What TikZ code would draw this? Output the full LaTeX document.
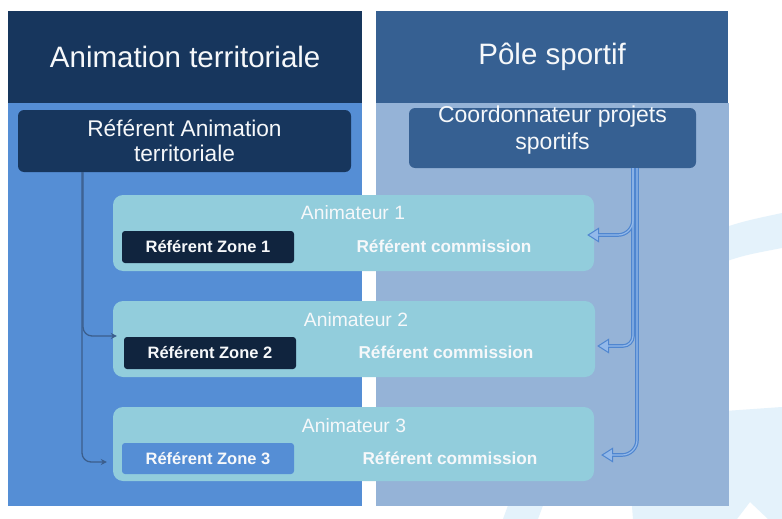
\documentclass[tikz,border=0pt]{standalone}
\usepackage{fontspec}
\setmainfont{Liberation Sans}
\usetikzlibrary{arrows.meta,calc}
\definecolor{navy}{HTML}{17365D}
\definecolor{leftbody}{HTML}{558ED5}
\definecolor{rhead}{HTML}{366092}
\definecolor{rightbody}{HTML}{95B3D7}
\definecolor{cyanbox}{HTML}{92CDDC}
\definecolor{zonedark}{HTML}{10243E}
\definecolor{wmblue}{HTML}{E4F2FB}
\definecolor{larrowc}{HTML}{3B5E8C}
\definecolor{routc}{HTML}{4F86D0}
\definecolor{rinc}{HTML}{93B9EA}
\definecolor{txtw}{HTML}{F6F8FA}
\begin{document}
\begin{tikzpicture}[x=1pt,y=-1pt,
  wm/.style={fill=wmblue},
  panel/.style={anchor=north west, inner sep=0pt, minimum height=403pt},
  hdr/.style={anchor=north west, inner sep=0pt, minimum height=92pt, text=txtw, font=\fontsize{29.5}{34}\selectfont},
  topbox/.style={rounded corners=6pt, inner sep=0pt, text=txtw, align=center},
  anim/.style={fill=cyanbox, rounded corners=10pt, inner sep=0pt, minimum width=481pt},
  zone/.style={rounded corners=3pt, inner sep=0pt, minimum width=172pt, minimum height=32pt, text=txtw, font=\bfseries\fontsize{16.5}{18}\selectfont},
  antext/.style={anchor=base, text=txtw, font=\fontsize{19.3}{22}\selectfont, inner sep=0pt},
  rctext/.style={anchor=base, text=txtw, font=\bfseries\fontsize{17.2}{20}\selectfont, inner sep=0pt},
  larrow/.style={draw=larrowc, line width=1.3pt, rounded corners=9pt, -{Stealth[length=6pt,width=6pt]}},
  rout/.style={draw=routc, line width=3.6pt, -{Triangle[length=12pt,width=15pt,fill=rinc,line width=1pt]}},
  rin/.style={draw=rinc, line width=1.2pt, shorten >=11pt},
]
\fill[white] (0,0) rectangle (782,519);
\useasboundingbox (0,0) rectangle (782,519);

% faint watermark
\fill[wm] (700,236) .. controls (740,222) .. (782,213) -- (782,248) .. controls (740,256) .. (700,271) -- cycle;
\fill[wm] (625,418) -- (782,407) -- (782,519) -- (768,519) -- (750,502) -- (737,519) -- (633,519) -- cycle;
\fill[wm] (503,519) -- (510,500) -- (545,500) -- (538,519) -- cycle;

% panels
\node[panel, fill=leftbody, minimum width=354pt] (lb) at (8,103) {};
\node[panel, fill=rightbody, minimum width=353pt] (rb) at (376,103) {};
\node[hdr, fill=navy, minimum width=354pt] (lh) at (8,11) {Animation territoriale};
\node[hdr, fill=rhead, minimum width=352pt] (rh) at (376,11) {Pôle sportif};

% top boxes
\node[topbox, fill=navy, minimum width=333pt, minimum height=62pt,
      font=\fontsize{22.7}{25}\selectfont] (ref) at (184.5,141) {Référent Animation\\territoriale};
\node[topbox, fill=rhead, minimum width=287pt, minimum height=60pt] (coord) at (552.5,138) {};
\node[text=txtw, align=center, inner sep=0pt, font=\fontsize{23}{27}\selectfont] (coordt) at (552.5,130.5) {Coordonnateur projets\\sportifs};

% animateur boxes
\node[anim, minimum height=76pt] (a1) at (353.5,233) {};
\node[anim, minimum height=76pt, minimum width=482pt] (a2) at (354,339) {};
\node[anim, minimum height=74pt] (a3) at (353.5,444) {};

% zone boxes
\node[zone, fill=zonedark] (z1) at (208,247) {Référent Zone 1};
\node[zone, fill=zonedark] (z2) at (210,353) {Référent Zone 2};
\node[zone, fill=leftbody, minimum height=31pt] (z3) at (208,458.5) {Référent Zone 3};

% texts
\node[antext] (t1) at (353,219.5) {Animateur 1};
\node[antext] (t2) at (356,326.5) {Animateur 2};
\node[antext] (t3) at (354,432) {Animateur 3};
\node[rctext] (rc1) at (444,252.5) {Référent commission};
\node[rctext] (rc2) at (446,358) {Référent commission};
\node[rctext] (rc3) at (450,464) {Référent commission};

% left connectors
\draw[larrow] ([xshift=-101.5pt]ref.south) |- ([xshift=4pt,yshift=3pt]a2.west);
\draw[larrow] ([xshift=-102.5pt]ref.south) |- ([xshift=-6pt,yshift=-18pt]a3.west);

% right connectors
\draw[rout, rounded corners=15pt] ([xshift=84.5pt]coord.south) |- ([xshift=7pt,yshift=-11pt]a3.east);
\draw[rout, rounded corners=10pt] ([xshift=80.5pt]coord.south) |- ([xshift=2pt,yshift=-7pt]a2.east);
\draw[rout, rounded corners=15pt] ([xshift=80.5pt]coord.south) |- ([xshift=-7pt,yshift=-2pt]a1.east);
\draw[rin, rounded corners=15pt] ([xshift=84.5pt]coord.south) |- ([xshift=7pt,yshift=-11pt]a3.east);
\draw[rin, rounded corners=10pt] ([xshift=80.5pt]coord.south) |- ([xshift=2pt,yshift=-7pt]a2.east);
\draw[rin, rounded corners=15pt] ([xshift=80.5pt]coord.south) |- ([xshift=-7pt,yshift=-2pt]a1.east);
\end{tikzpicture}
\end{document}
